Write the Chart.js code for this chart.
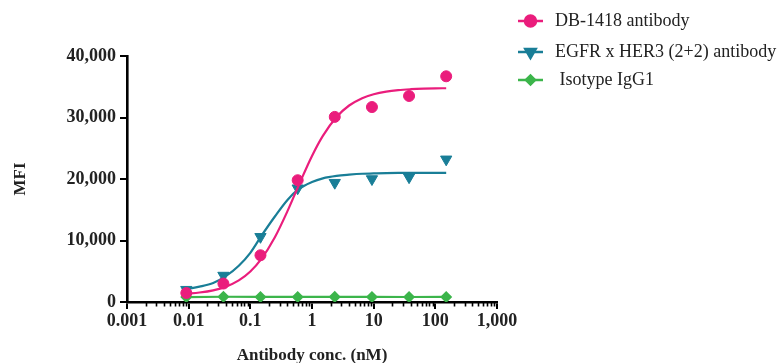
<!DOCTYPE html>
<html>
<head>
<meta charset="utf-8">
<script src="https://cdn.jsdelivr.net/npm/chart.js@4/dist/chart.umd.min.js"></script>
<style>
  html, body { margin: 0; padding: 0; background: #ffffff; }
  #wrap { width: 782px; height: 363px; }
</style>
</head>
<body>
<div id="wrap"><canvas id="chart" width="782" height="363"></canvas></div>
<script>
// Antibody concentrations (nM), 4-fold serial dilution
const concentrations = [0.00916, 0.0366, 0.146, 0.586, 2.34, 9.38, 37.5, 150];

// Measured MFI at each concentration
const db1418Mfi  = [1460, 3000, 7600, 19800, 30100, 31700, 33500, 36700];
const egfrHer3Mfi = [2000, 4300, 10600, 18500, 19400, 20000, 20300, 23200];
const isotypeMfi = [800, 850, 820, 820, 830, 820, 810, 820];

// Fitted dose-response curves, sampled along the concentration range
const fitConc = [0.00916, 0.015, 0.025, 0.04, 0.065, 0.1, 0.15, 0.25, 0.4, 0.6, 1,
                 1.5, 2.5, 4, 6.5, 10, 16, 25, 40, 65, 100, 150];
const db1418Fit = [1350, 1540, 1900, 2490, 3510, 4960, 6960, 10530, 14770, 18830, 23750,
                   27020, 30090, 31950, 33150, 33790, 34220, 34460, 34600, 34690, 34740, 34760];
const egfrHer3Fit = [2100, 2500, 3100, 4200, 5900, 8000, 10700, 13900, 16600, 18300, 19500,
                     20100, 20500, 20700, 20850, 20900, 20950, 20980, 21000, 21000, 21000, 21000];

// Axis ticks
const xTickValues = [0.001, 0.01, 0.1, 1, 10, 100, 1000];
const xTickLabels = ['0.001', '0.01', '0.1', '1', '10', '100', '1,000'];
const yTickValues = [0, 10000, 20000, 30000, 40000];
const yTickLabels = ['0', '10,000', '20,000', '30,000', '40,000'];

const seriesNames = ['DB-1418 antibody', 'EGFR x HER3 (2+2) antibody', ' Isotype IgG1'];

const PINK = '#ea1d7c';
const TEAL = '#197e97';
const GREEN = '#3cb54b';
const SERIF = '"Liberation Serif", "Times New Roman", serif';

const toXY = (xs, ys) => xs.map((x, i) => ({ x: x, y: ys[i] }));

// Minor log ticks below the x axis, plus the legend block at the upper right
const extrasPlugin = {
  id: 'extras',
  afterDraw(chart) {
    const ctx = chart.ctx;
    const xs = chart.scales.x;
    const bottom = chart.chartArea.bottom;
    ctx.save();
    ctx.strokeStyle = '#000';
    ctx.lineWidth = 1.6;
    for (let d = -3; d < 3; d++) {
      for (let m = 2; m <= 9; m++) {
        const px = Math.round(xs.getPixelForValue(m * Math.pow(10, d))) + 0.5;
        ctx.beginPath();
        ctx.moveTo(px, bottom);
        ctx.lineTo(px, bottom + 4.5);
        ctx.stroke();
      }
    }

    const rows = [
      { color: PINK, style: 'circle', radius: 5.5, rotation: 0, y: 21 },
      { color: TEAL, style: 'triangle', radius: 6, rotation: 180, y: 52 },
      { color: GREEN, style: 'rectRot', radius: 4.5, rotation: 0, y: 80 }
    ];
    rows.forEach((r, i) => {
      ctx.strokeStyle = r.color;
      ctx.lineWidth = 2.5;
      ctx.beginPath();
      ctx.moveTo(518, r.y);
      ctx.lineTo(543, r.y);
      ctx.stroke();
      ctx.fillStyle = r.color;
      ctx.strokeStyle = r.color;
      Chart.helpers.drawPoint(ctx, {
        pointStyle: r.style, radius: r.radius, rotation: r.rotation, borderWidth: 1
      }, 530.5, r.y);
      ctx.fillStyle = '#222';
      ctx.font = '18px ' + SERIF;
      ctx.textBaseline = 'middle';
      ctx.textAlign = 'left';
      ctx.fillText(seriesNames[i], 555, r.y);
    });
    ctx.restore();
  }
};

new Chart(document.getElementById('chart'), {
  type: 'scatter',
  data: {
    datasets: [
      {
        label: seriesNames[0], data: toXY(concentrations, db1418Mfi), order: 0,
        showLine: false, pointStyle: 'circle', pointRadius: 5.5,
        backgroundColor: PINK, borderColor: PINK, borderWidth: 1
      },
      {
        label: seriesNames[0] + ' fit', data: toXY(fitConc, db1418Fit), order: 1,
        showLine: true, pointRadius: 0, borderColor: PINK, borderWidth: 2.2,
        cubicInterpolationMode: 'monotone'
      },
      {
        label: seriesNames[1], data: toXY(concentrations, egfrHer3Mfi), order: 2,
        showLine: false, pointStyle: 'triangle', pointRotation: 180, pointRadius: 6.5,
        backgroundColor: TEAL, borderColor: TEAL, borderWidth: 1
      },
      {
        label: seriesNames[1] + ' fit', data: toXY(fitConc, egfrHer3Fit), order: 3,
        showLine: true, pointRadius: 0, borderColor: TEAL, borderWidth: 2.2,
        cubicInterpolationMode: 'monotone'
      },
      {
        label: seriesNames[2], data: toXY(concentrations, isotypeMfi), order: 4,
        showLine: true, pointStyle: 'rectRot', pointRadius: 4.5,
        backgroundColor: GREEN, borderColor: GREEN, borderWidth: 2.2
      }
    ]
  },
  options: {
    responsive: false,
    animation: false,
    layout: { padding: { top: 56, right: 285, left: 0, bottom: 0 } },
    plugins: {
      legend: { display: false },
      tooltip: { enabled: false }
    },
    scales: {
      x: {
        type: 'logarithmic',
        min: 0.001,
        max: 1000,
        afterBuildTicks(scale) {
          scale.ticks = xTickValues.map(v => ({ value: v, major: true }));
        },
        afterFit(scale) { scale.height = 61; },
        ticks: {
          autoSkip: false,
          maxRotation: 0,
          padding: 2,
          color: '#222',
          font: { family: SERIF, size: 18, weight: 'bold' },
          callback: (v) => {
            const i = xTickValues.findIndex(t => Math.abs(Math.log10(t) - Math.log10(v)) < 1e-6);
            return i >= 0 ? xTickLabels[i] : '';
          }
        },
        grid: {
          display: true, drawOnChartArea: false, drawTicks: true,
          tickLength: 7, color: '#000', lineWidth: 2
        },
        border: { display: true, color: '#000', width: 2.6 },
        title: {
          display: true, text: 'Antibody conc. (nM)', color: '#222',
          font: { family: SERIF, size: 17, weight: 'bold', lineHeight: 1 },
          padding: { top: 16, bottom: -1 }
        }
      },
      y: {
        type: 'linear',
        min: 0,
        max: 40000,
        afterBuildTicks(scale) {
          scale.ticks = yTickValues.map(v => ({ value: v }));
        },
        afterFit(scale) { scale.width = 127; },
        ticks: {
          padding: 4,
          color: '#222',
          font: { family: SERIF, size: 18, weight: 'bold' },
          callback: (v) => {
            const i = yTickValues.indexOf(v);
            return i >= 0 ? yTickLabels[i] : '';
          }
        },
        grid: {
          display: true, drawOnChartArea: false, drawTicks: true,
          tickLength: 7, color: '#000', lineWidth: 2
        },
        border: { display: true, color: '#000', width: 2.6 },
        title: {
          display: true, text: 'MFI', color: '#222',
          font: { family: SERIF, size: 17, weight: 'bold' },
          padding: { top: 10, bottom: 0 }
        }
      }
    }
  },
  plugins: [extrasPlugin]
});
</script>
</body>
</html>
